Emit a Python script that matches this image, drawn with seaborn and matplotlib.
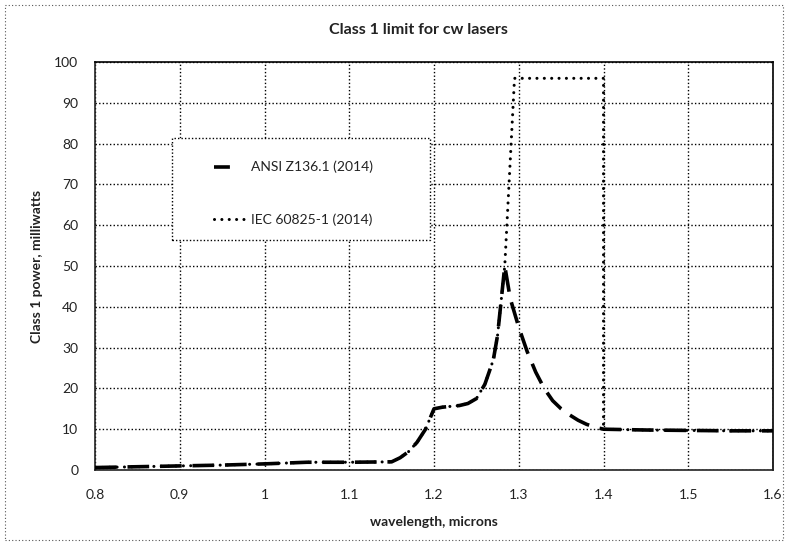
import matplotlib
matplotlib.use("Agg")
import matplotlib.pyplot as plt
from matplotlib.patches import Rectangle
from matplotlib.lines import Line2D
import seaborn as sns
import pandas as pd

# ---- data ----
ansi_wavelength = [0.80, 0.85, 0.90, 0.95, 1.00, 1.05, 1.10, 1.15, 1.16, 1.17, 1.18, 1.19,
                   1.20, 1.21, 1.22, 1.23, 1.24, 1.25, 1.26, 1.27, 1.275, 1.28, 1.2835,
                   1.29, 1.30, 1.31, 1.32, 1.33, 1.34, 1.35, 1.36, 1.37, 1.38, 1.39, 1.40,
                   1.45, 1.50, 1.55, 1.60]
ansi_power = [0.6, 0.8, 1.0, 1.2, 1.5, 1.9, 1.9, 2.0, 3.0, 4.5, 6.8, 10.0,
              15.0, 15.4, 15.6, 15.8, 16.3, 17.5, 21.0, 27.0, 33.0, 43.0, 50.0,
              42.0, 35.0, 29.0, 24.0, 20.0, 17.0, 15.0, 13.5, 12.2, 11.2, 10.5, 10.0,
              9.8, 9.7, 9.6, 9.6]

iec_wavelength = [0.80, 0.85, 0.90, 0.95, 1.00, 1.05, 1.10, 1.15, 1.16, 1.17, 1.18, 1.19,
                  1.20, 1.21, 1.22, 1.23, 1.24, 1.25, 1.26, 1.27, 1.275, 1.28, 1.2835,
                  1.295, 1.40, 1.40, 1.45, 1.50, 1.55, 1.60]
iec_power = [0.6, 0.8, 1.0, 1.2, 1.5, 1.9, 1.9, 2.0, 3.0, 4.5, 6.8, 10.0,
             15.0, 15.4, 15.6, 15.8, 16.3, 17.5, 21.0, 27.0, 33.0, 43.0, 50.0,
             96.0, 96.0, 10.0, 9.8, 9.7, 9.6, 9.6]

series_labels = ["ANSI Z136.1 (2014)", "IEC 60825-1 (2014)"]
x_ticks = [0.8, 0.9, 1.0, 1.1, 1.2, 1.3, 1.4, 1.5, 1.6]
x_tick_labels = ["0.8", "0.9", "1", "1.1", "1.2", "1.3", "1.4", "1.5", "1.6"]
y_ticks = [0, 10, 20, 30, 40, 50, 60, 70, 80, 90, 100]

title = "Class 1 limit for cw lasers"
x_label = "wavelength, microns"
y_label = "Class 1 power, milliwatts"

# ---- style ----
sns.set_style("white")
plt.rcParams["font.family"] = ["Lato", "DejaVu Sans"]

fig = plt.figure(figsize=(7.88, 5.45), dpi=100)
ax = fig.add_axes([95 / 788, 1 - 470 / 545, (773 - 95) / 788, (470 - 62) / 545])

df_ansi = pd.DataFrame({"wavelength": ansi_wavelength, "power": ansi_power})
df_iec = pd.DataFrame({"wavelength": iec_wavelength, "power": iec_power})

sns.lineplot(data=df_iec, x="wavelength", y="power", sort=False, estimator=None, ax=ax,
             color="black", linewidth=2.2, linestyle=(0, (0.01, 2.4)),
             solid_capstyle="round", dash_capstyle="round", zorder=3)
sns.lineplot(data=df_ansi, x="wavelength", y="power", sort=False, estimator=None, ax=ax,
             color="black", linewidth=2.6, linestyle=(0, (6, 3)),
             dash_capstyle="butt", zorder=4)

ax.set_xlim(0.8, 1.6)
ax.set_ylim(0, 100)
ax.set_xticks(x_ticks)
ax.set_xticklabels(x_tick_labels)
ax.set_yticks(y_ticks)
ax.grid(True, color="black", linewidth=1.0, linestyle=(0, (1, 1.6)))
ax.set_axisbelow(True)
ax.tick_params(axis="both", direction="out", length=4, width=1, colors="#333333",
               labelsize=10, labelcolor="#222222", pad=8)
ax.tick_params(axis="x", pad=10)

for side in ["left", "bottom"]:
    ax.spines[side].set_color("#222222")
    ax.spines[side].set_linewidth(1.2)
for side in ["top", "right"]:
    ax.spines[side].set_color("black")
    ax.spines[side].set_linewidth(1.2)
    ax.spines[side].set_linestyle((0, (1, 1)))
    ax.spines[side].set_visible(True)

ax.set_xlabel("")
ax.set_ylabel("")

fig.text(418 / 788, 1 - 30 / 545, title, ha="center", va="center",
         fontsize=11.5, fontweight="bold", color="#222222")
fig.text(434 / 788, 1 - 522 / 545, x_label, ha="center", va="center",
         fontsize=10, fontweight="bold", color="#222222")
fig.text(37 / 788, 1 - 266 / 545, y_label, ha="center", va="center",
         rotation=90, fontsize=10, fontweight="bold", color="#222222")

# legend box
ax.add_patch(Rectangle((77 / 678, (470 - 240) / 408), (430 - 172) / 678, (240 - 138) / 408,
                       transform=ax.transAxes, facecolor="white", edgecolor="black",
                       linewidth=1.0, linestyle=(0, (1, 1.5)), zorder=5))
handles = [Line2D([], [], color="black", linewidth=2.6, linestyle=(0, (4.4, 10))),
           Line2D([], [], color="black", linewidth=2.2, linestyle=(0, (0.01, 2.4)),
                  dash_capstyle="round")]
leg = ax.legend(handles, series_labels, loc="upper left",
                bbox_to_anchor=((207 - 95) / 678, (470 - 154) / 408),
                frameon=False, borderpad=0, labelspacing=2.9, handlelength=2.3,
                handletextpad=0.4, fontsize=10)
leg.set_zorder(6)
for t in leg.get_texts():
    t.set_color("#222222")

# dotted border around the whole figure
fig.patches.append(Rectangle((5 / 788, 5 / 545), 778 / 788, 535 / 545,
                             transform=fig.transFigure, fill=False, edgecolor="#555555",
                             linewidth=0.8, linestyle=(0, (1, 2))))

fig.savefig("out.png", dpi=100)
